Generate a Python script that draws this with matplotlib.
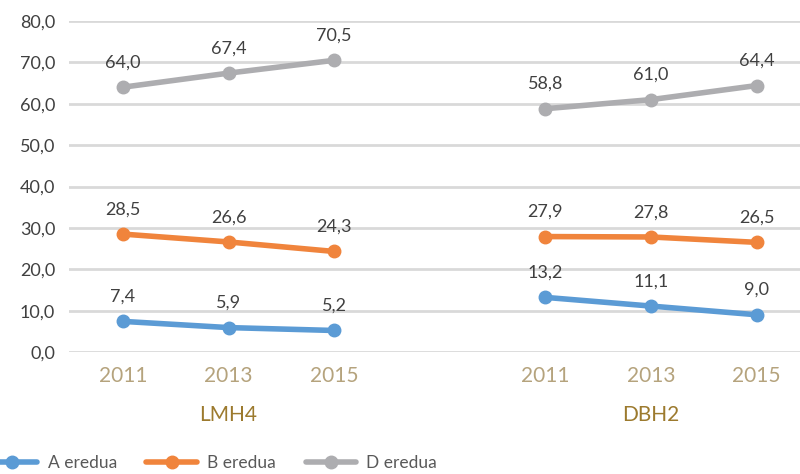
import matplotlib
matplotlib.use('Agg')
import matplotlib.pyplot as plt
import numpy as np

# data
years = ['2011', '2013', '2015', '', '2011', '2013', '2015']
groups = ['LMH4', 'DBH2']
a_eredua = [7.4, 5.9, 5.2, np.nan, 13.2, 11.1, 9.0]
b_eredua = [28.5, 26.6, 24.3, np.nan, 27.9, 27.8, 26.5]
d_eredua = [64.0, 67.4, 70.5, np.nan, 58.8, 61.0, 64.4]
series_names = ['A eredua', 'B eredua', 'D eredua']
colors = ['#5B9BD5', '#F0843C', '#ADADB0']

plt.rcParams['font.family'] = ['Lato', 'DejaVu Sans']

fig = plt.figure(figsize=(8, 4.74), dpi=100)
ax = fig.add_axes([69/800, 1-352/474, 1-69/800, (352-21)/474])

x = np.arange(len(years))
lines = []
for vals, name, c in zip([a_eredua, b_eredua, d_eredua], series_names, colors):
    ln, = ax.plot(x, vals, color=c, lw=4, marker='o', ms=9, label=name,
                  solid_capstyle='round', zorder=3)
    lines.append(ln)
    for xi, v in zip(x, vals):
        if not np.isnan(v):
            ax.annotate(f'{v:.1f}'.replace('.', ','), (xi, v), xytext=(0, 12),
                        textcoords='offset points', ha='center', va='bottom',
                        fontsize=13, color='#404040')

ax.set_ylim(0, 80)
ax.set_xlim(-0.51, 6.41)
ax.set_yticks(np.arange(0, 81, 10))
ax.set_yticklabels([f'{t:.1f}'.replace('.', ',') for t in np.arange(0, 81, 10)],
                   fontsize=13, color='#404040')
ax.yaxis.grid(True, color='#D9D9D9', lw=2)
ax.set_axisbelow(True)
ax.tick_params(axis='y', length=0, pad=10)
ax.set_xticks(x)
ax.set_xticklabels(years, fontsize=15, color='#B5A37D')
ax.tick_params(axis='x', length=0, pad=10)
for s in ax.spines.values():
    s.set_visible(False)

ax.text(1, -0.19, groups[0], transform=ax.get_xaxis_transform(), ha='center',
        va='center', fontsize=15, color='#9C7A2E')
ax.text(5, -0.19, groups[1], transform=ax.get_xaxis_transform(), ha='center',
        va='center', fontsize=15, color='#9C7A2E')

fig.legend(handles=lines, loc='center', bbox_to_anchor=(0.265, 1-463/474),
           ncol=3, frameon=False, fontsize=12.5, labelcolor='#595959',
           handlelength=2.9, columnspacing=1.7, handletextpad=0.6)

fig.savefig('out.png', dpi=100)
